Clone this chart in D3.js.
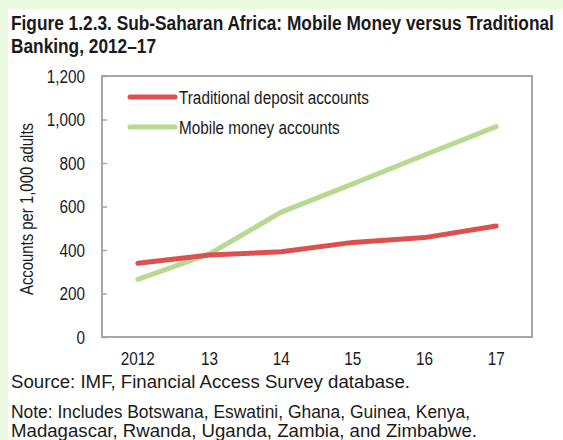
<!DOCTYPE html>
<html lang="en">
<head>
  <meta charset="UTF-8">
  <title>Sub-Saharan Africa: Mobile Money versus Traditional Banking</title>
  <script src="https://d3js.org/d3.v7.min.js"></script>
  <style>
    body { margin: 0; background: #ebfae1; }
    svg { display: block; }
    text { font-family: "Liberation Sans", Arial, sans-serif; fill: #1a1a1a; }
  </style>
</head>
<body>
  <svg width="563" height="440"></svg>

  <script>
    // Data
    const years = ["2012", "13", "14", "15", "16", "17"];
    const traditional = [339, 377, 392, 435, 457, 510];
    const mobile = [265, 382, 574, 704, 837, 967];
    const yTicks = [0, 200, 400, 600, 800, 1000, 1200];
    const seriesNames = ["Traditional deposit accounts", "Mobile money accounts"];
    const seriesColors = ["#de4f4f", "#b8d992"];
    const titleLines = ["Figure 1.2.3. Sub-Saharan Africa: Mobile Money versus Traditional", "Banking, 2012–17"];

    const svg = d3.select("svg");
    const width = 563, height = 440;
    const margin = { top: 76, right: 31, bottom: 103, left: 102 };

    // the original uses Arial Narrow, squeeze regular glyphs to match
    function narrow(sel, k = 0.85) {
      sel.each(function() {
        const len = this.getComputedTextLength();
        d3.select(this).attr("textLength", len * k).attr("lengthAdjust", "spacingAndGlyphs");
      });
    }

    // white panel, light green strip left/top
    svg.append("rect")
       .attr("x", 8).attr("y", 9)
       .attr("width", width - 8).attr("height", height - 9)
       .attr("fill", "#fff");

    // title: bold narrow, squeezed with a horizontal scale so the first line fits
    const titleG = svg.append("g");
    const titleText = titleG.selectAll("text")
       .data(titleLines)
       .join("text")
       .attr("x", 0)
       .attr("y", (d, i) => i * 23)
       .attr("font-weight", "bold")
       .attr("font-size", 20)
       .text(d => d);
    const k = 543 / titleText.node().getComputedTextLength();
    titleG.attr("transform", `translate(11,30) scale(${k},1)`);

    const x = d3.scalePoint()
                .domain(years)
                .range([margin.left, width - margin.right])
                .padding(0.5);

    const y = d3.scaleLinear()
                .domain([0, 1200])
                .range([height - margin.bottom, margin.top]);

    // frame
    svg.append("rect")
       .attr("x", margin.left).attr("y", margin.top)
       .attr("width", width - margin.left - margin.right)
       .attr("height", height - margin.top - margin.bottom)
       .attr("fill", "none")
       .attr("stroke", "#a6a6a6")
       .attr("stroke-width", 2);

    // y axis, ticks pointing inward
    const yAxis = svg.append("g")
       .attr("transform", `translate(${margin.left},0)`)
       .call(d3.axisRight(y).tickValues(yTicks).tickSize(5).tickFormat(() => ""));
    yAxis.select(".domain").remove();
    yAxis.selectAll(".tick line").attr("stroke", "#a6a6a6").attr("stroke-width", 1.5);

    svg.append("g")
       .selectAll("text")
       .data(yTicks)
       .join("text")
       .attr("x", 85)
       .attr("y", d => y(d) + 6.5)
       .attr("text-anchor", "end")
       .attr("font-size", 18)
       .text(d => d3.format(",")(d))
       .call(narrow);

    // x labels
    svg.append("g")
       .selectAll("text")
       .data(years)
       .join("text")
       .attr("x", d => x(d))
       .attr("y", 365)
       .attr("text-anchor", "middle")
       .attr("font-size", 18)
       .text(d => d)
       .call(narrow);

    // y axis title
    svg.append("text")
       .attr("transform", "rotate(-90)")
       .attr("x", -209)
       .attr("y", 33)
       .attr("text-anchor", "middle")
       .attr("font-size", 17.5)
       .text("Accounts per 1,000 adults")
       .call(narrow);

    // lines
    const line = d3.line()
                   .x((d, i) => x(years[i]))
                   .y(d => y(d));

    // green first so red sits on top
    [mobile, traditional].forEach(values => {
      svg.append("path")
         .datum(values)
         .attr("d", line)
         .attr("fill", "none")
         .attr("stroke", values === traditional ? seriesColors[0] : seriesColors[1])
         .attr("stroke-width", 5)
         .attr("stroke-linecap", "round")
         .attr("stroke-linejoin", "round");
    });

    // legend
    const legend = svg.append("g");
    seriesNames.forEach((name, i) => {
      const ly = 97 + i * 30;
      legend.append("line")
            .attr("x1", 130).attr("x2", 175)
            .attr("y1", ly).attr("y2", ly)
            .attr("stroke", seriesColors[i])
            .attr("stroke-width", 5)
            .attr("stroke-linecap", "round");
      legend.append("text")
            .attr("x", 179)
            .attr("y", ly + 6.5)
            .attr("font-size", 18)
            .text(name)
            .call(narrow);
    });

    // source and note
    const notes = [
      { text: "Source: IMF, Financial Access Survey database.", y: 388, w: 399 },
      { text: "Note: Includes Botswana, Eswatini, Ghana, Guinea, Kenya,", y: 418, w: 459 },
      { text: "Madagascar, Rwanda, Uganda, Zambia, and Zimbabwe.", y: 437, w: 466 }
    ];
    svg.append("g")
       .selectAll("text")
       .data(notes)
       .join("text")
       .attr("x", 11)
       .attr("y", d => d.y)
       .attr("font-size", 17.5)
       .attr("textLength", d => d.w)
       .attr("lengthAdjust", "spacingAndGlyphs")
       .text(d => d.text);
  </script>
</body>
</html>
